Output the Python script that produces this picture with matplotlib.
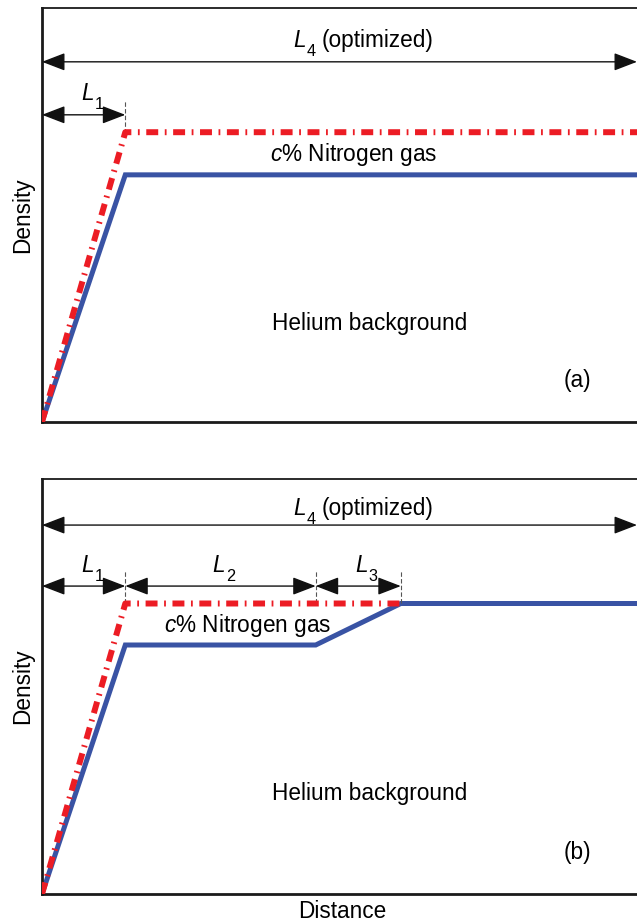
import matplotlib.pyplot as plt
from matplotlib.patches import ArrowStyle

plt.rcParams['font.family'] = ['Liberation Sans', 'DejaVu Sans']
plt.rcParams['mathtext.fontset'] = 'custom'
plt.rcParams['mathtext.rm'] = 'Liberation Sans'
plt.rcParams['mathtext.it'] = 'Liberation Sans:italic'

BLUE = '#3953a4'
RED = '#ec1c24'
FS = 16.3

# density profiles (distance, density), normalised units
blue_a_x = [0.0, 0.14, 1.0]
blue_a_y = [0.0, 0.597, 0.597]
red_a_x = [0.0, 0.14, 1.0]
red_a_y = [0.0, 0.70, 0.70]

blue_b_x = [0.0, 0.14, 0.46, 0.603, 1.0]
blue_b_y = [0.0, 0.60, 0.60, 0.70, 0.70]
red_b_x = [0.0, 0.14, 0.603]
red_b_y = [0.0, 0.70, 0.70]

# section boundaries for the length markers
bounds_a = [0.0, 0.14]
bounds_b = [0.0, 0.14, 0.46, 0.603]
subs_b = ['1', '2', '3']
# left edge of each "L" label
lab_x_b = [0.066, 0.287, 0.526]

fig = plt.figure(figsize=(6.37, 9.22), dpi=100)
W, H = 637, 922
ax_a = fig.add_axes([42 / W, 1 - 422 / H, 600 / W, 414 / H])
ax_b = fig.add_axes([42 / W, 1 - 894 / H, 600 / W, 415 / H])

head = ArrowStyle('<|-|>', head_length=0.65, head_width=0.25)


def span(ax, x0, x1, y):
    ax.annotate('', xy=(x1, y), xytext=(x0, y),
                arrowprops=dict(arrowstyle=head, color='#111111', lw=1.0,
                                mutation_scale=22, shrinkA=0, shrinkB=0))


def l_label(ax, x, y, sub, rest=''):
    # italic L with a low subscript, optional trailing text
    ax.text(x, y, 'L', style='italic', fontsize=FS, ha='left', va='baseline')
    ax.annotate(sub, xy=(x, y), xytext=(9.5, -6.5), textcoords='offset points',
                fontsize=FS * 0.72, ha='left', va='baseline')
    if rest:
        ax.annotate(rest, xy=(x, y), xytext=(20.5, 0), textcoords='offset points',
                    fontsize=FS, ha='left', va='baseline')


def style(ax):
    ax.set_xlim(0, 600 / 595)
    ax.set_ylim(0, 1)
    ax.set_xticks([])
    ax.set_yticks([])
    ax.spines['right'].set_visible(False)
    ax.spines['left'].set_linewidth(2)
    ax.spines['bottom'].set_linewidth(2)
    ax.spines['top'].set_linewidth(1.3)
    for s in ax.spines.values():
        s.set_color('#1a1a1a')
    ax.set_ylabel('Density', fontsize=FS, labelpad=6)


def profiles(ax, bx, by, rx, ry):
    ax.plot(bx, by, color=BLUE, lw=3.6, solid_joinstyle='miter', zorder=2)
    ax.plot(rx, ry, color=RED, lw=4.3, dashes=(2.0, 1.1, 0.3, 1.1), zorder=3)


# panel (a)
ax = ax_a
style(ax)
profiles(ax, blue_a_x, blue_a_y, red_a_x, red_a_y)
span(ax, 0.0, 1.0, 0.87)
l_label(ax, 0.422, 0.906, '4', '(optimized)')
span(ax, bounds_a[0], bounds_a[1], 0.742)
l_label(ax, 0.066, 0.778, '1')
ax.plot([bounds_a[1]] * 2, [0.698, 0.778], color='#555555', lw=0.8, ls=(0, (4, 2)))
ax.text(0.524, 0.645, r'$c$% Nitrogen gas', ha='center', va='center', fontsize=FS)
ax.text(0.551, 0.239, 'Helium background', ha='center', va='center', fontsize=FS)
ax.text(0.90, 0.101, '(a)', ha='center', va='center', fontsize=FS)

# panel (b)
ax = ax_b
style(ax)
profiles(ax, blue_b_x, blue_b_y, red_b_x, red_b_y)
span(ax, 0.0, 1.0, 0.889)
l_label(ax, 0.422, 0.913, '4', '(optimized)')
for i in range(len(subs_b)):
    span(ax, bounds_b[i], bounds_b[i + 1], 0.742)
    l_label(ax, lab_x_b[i], 0.776, subs_b[i])
for xb in bounds_b[1:]:
    ax.plot([xb] * 2, [0.701, 0.781], color='#555555', lw=0.8, ls=(0, (4, 2)))
ax.text(0.346, 0.648, r'$c$% Nitrogen gas', ha='center', va='center', fontsize=FS)
ax.text(0.551, 0.243, 'Helium background', ha='center', va='center', fontsize=FS)
ax.text(0.90, 0.101, '(b)', ha='center', va='center', fontsize=FS)
ax.set_xlabel('Distance', fontsize=FS, labelpad=4)

fig.savefig('out.png', dpi=100)
